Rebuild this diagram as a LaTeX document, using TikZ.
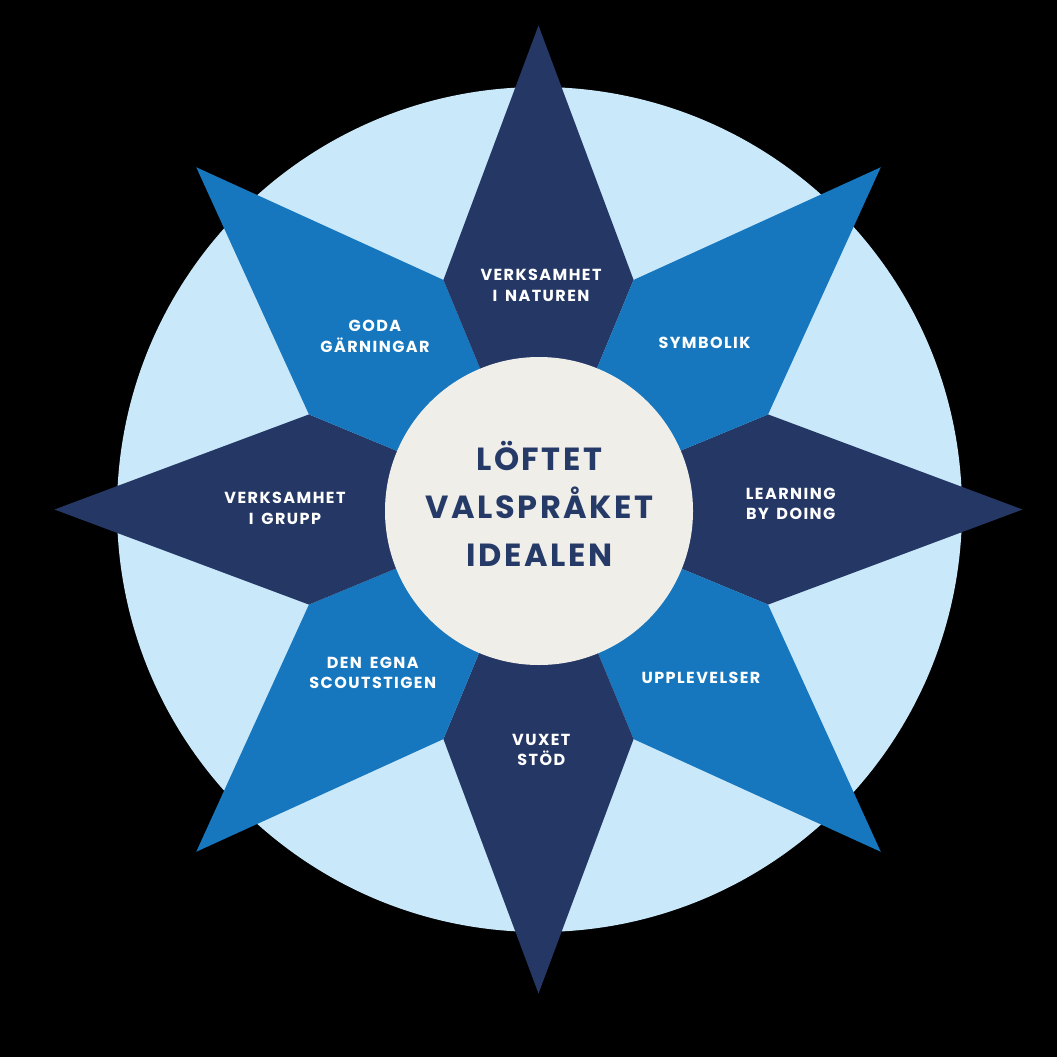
\documentclass[tikz,border=0pt]{standalone}
\usepackage{fontspec}
\setmainfont{Poppins}
\newfontfamily\labfont[LetterSpace=9,WordSpace=1.6]{Poppins}
\newfontfamily\cenfont[LetterSpace=8]{Poppins}
\definecolor{navy}{HTML}{253865}
\definecolor{midblue}{HTML}{1777BE}
\definecolor{skyblue}{HTML}{C9E9FA}
\definecolor{cream}{HTML}{F0EEE9}
\definecolor{textnavy}{HTML}{263A68}
\tikzset{
  lab/.style={text=white, align=center, inner sep=0pt, font=\labfont\bfseries\fontsize{16}{20.5}\selectfont},
  cen/.style={text=textnavy, align=center, inner sep=0pt, font=\cenfont\bfseries\fontsize{32}{48}\selectfont},
  darkkite/.style={fill=navy},
  bluekite/.style={fill=midblue},
}
\begin{document}
\begin{tikzpicture}[x=1pt,y=-1pt]
\fill[black] (0,0) rectangle (1057,1057);
\useasboundingbox (0,0) rectangle (1057,1057);
\coordinate (C) at (538.5,509.5);
\fill[skyblue] (539.5,509.5) circle[radius=422.5];
\foreach \k in {0,...,7}{
  \pgfmathsetmacro{\a}{45*\k}
  \pgfmathtruncatemacro{\odd}{mod(\k,2)}
  \ifnum\odd=0
    \fill[darkkite] (C) -- ([shift={(C)}]\a-22.5:248.5) -- ([shift={(C)}]\a:484) -- ([shift={(C)}]\a+22.5:248.5) -- cycle;
  \else
    \fill[bluekite] (C) -- ([shift={(C)}]\a-22.5:248.5) -- ([shift={(C)}]\a:484) -- ([shift={(C)}]\a+22.5:248.5) -- cycle;
  \fi
}
\node[circle, fill=cream, minimum size=308pt, inner sep=0pt] (core) at (539,511) {};
\node[cen] (centre) at (539.3,504) {LÖFTET\\VALSPRÅKET\\IDEALEN};
\node[lab] (natur) at (541,285.5) {VERKSAMHET\\I NATUREN};
\node[lab] (goda) at (375,336.2) {GODA\\GÄRNINGAR};
\node[lab] (symb) at (704.5,342.5) {SYMBOLIK};
\node[lab] (grupp) at (285,508.3) {VERKSAMHET\\I GRUPP};
\node[lab] (learn) at (790.7,503.9) {LEARNING\\BY DOING};
\node[lab] (scout) at (372.8,673.1) {DEN EGNA\\SCOUTSTIGEN};
\node[lab] (upp) at (701,678) {UPPLEVELSER};
\node[lab] (vuxet) at (541.3,750) {VUXET\\STÖD};
\end{tikzpicture}
\end{document}
